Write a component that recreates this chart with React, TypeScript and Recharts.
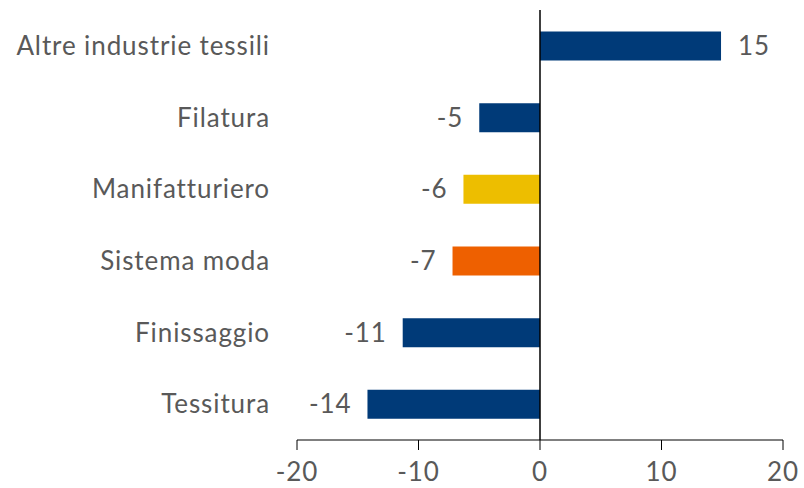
import React from 'react';
import { BarChart, Bar, XAxis, YAxis, Cell, ReferenceLine, LabelList } from 'recharts';

const categories = ['Altre industrie tessili', 'Filatura', 'Manifatturiero', 'Sistema moda', 'Finissaggio', 'Tessitura'];
const values = [14.9, -5.0, -6.3, -7.2, -11.3, -14.2];
const barColors = ['#003A78', '#003A78', '#EDBE00', '#EE6000', '#003A78', '#003A78'];
const xTicks = [-20, -10, 0, 10, 20];

const chartData = categories.map((name, i) => ({ name, value: values[i], color: barColors[i] }));

const textColor = '#595959';
const fontFamily = 'Lato, "Open Sans", sans-serif';
const fontSize = 26;
const spacing = 0.9;

const renderValueLabel = (props: any) => {
  const { x, y, width, height, value } = props;
  const left = Math.min(x, x + width);
  const right = Math.max(x, x + width);
  const cy = y + height / 2;
  const positive = value >= 0;
  return (
    <text
      x={positive ? right + 17 : left - 16}
      y={cy}
      dy="0.35em"
      textAnchor={positive ? 'start' : 'end'}
      fill={textColor}
      fontSize={fontSize}
      fontFamily={fontFamily}
      letterSpacing={spacing}
    >
      {Math.round(value)}
    </text>
  );
};

export default function App() {
  return (
    <div style={{ width: 804, height: 488 }}>
      <style>{`body { margin: 0; }`}</style>
      <BarChart
        width={804}
        height={488}
        layout="vertical"
        data={chartData}
        margin={{ top: 10, right: 21, left: 0, bottom: 0 }}
        barCategoryGap="30%"
      >
        <XAxis
          type="number"
          domain={[-20, 20]}
          ticks={xTicks}
          height={48}
          stroke="#000"
          tickSize={10}
          tickMargin={13}
          tick={{ fontSize, fill: textColor, fontFamily, letterSpacing: spacing }}
        />
        <YAxis
          type="category"
          dataKey="name"
          width={297}
          axisLine={false}
          tickLine={false}
          tickMargin={21}
          tick={{ fontSize, fill: textColor, fontFamily, letterSpacing: spacing }}
        />
        <ReferenceLine x={0} stroke="#000" strokeWidth={1.5} />
        <Bar dataKey="value" isAnimationActive={false}>
          {chartData.map((d, i) => (
            <Cell key={i} fill={d.color} />
          ))}
          <LabelList dataKey="value" content={renderValueLabel} />
        </Bar>
      </BarChart>
    </div>
  );
}
